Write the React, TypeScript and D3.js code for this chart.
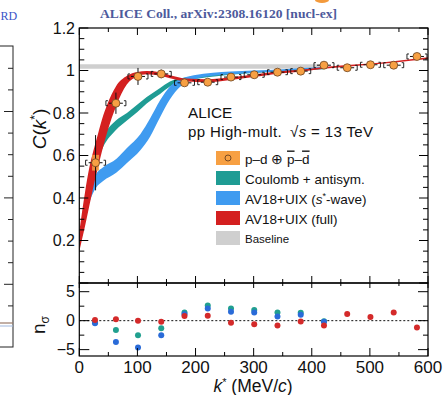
import React from "react";
import * as d3 from "d3";

// ---------- data ----------
const kPts = [28, 63, 101, 141, 181, 221, 261, 301, 341, 381, 421, 461, 501, 541, 581];
const cPts = [0.566, 0.846, 0.972, 0.984, 0.942, 0.945, 0.969, 0.98, 0.992, 0.997, 1.025, 1.013, 1.027, 1.025, 1.066];
const statErr = [0.13, 0.05, 0.04, 0.02, 0.01, 0.008, 0.006, 0.005, 0.005, 0.005, 0.005, 0.005, 0.005, 0.005, 0.006];
const sysErr = [0.037, 0.012, 0.01, 0.008, 0.006, 0.006, 0.005, 0.005, 0.005, 0.005, 0.005, 0.005, 0.005, 0.005, 0.005];
const kErr = [12, 12, 12, 12, 12, 12, 12, 12, 12, 12, 12, 12, 12, 12, 12];

const redK = [0, 5, 10, 17, 24, 30, 39, 48, 63, 82, 100, 116, 140, 156, 185, 220, 260, 300, 340, 380, 420, 460, 500, 540, 600];
const redLo = [0.15, 0.21, 0.27, 0.36, 0.45, 0.52, 0.62, 0.71, 0.83, 0.935, 0.972, 0.982, 0.975, 0.963, 0.948, 0.945, 0.955, 0.969, 0.985, 0.994, 1.008, 1.018, 1.027, 1.037, 1.054];
const redHi = [0.24, 0.34, 0.43, 0.54, 0.62, 0.68, 0.77, 0.84, 0.925, 0.975, 0.993, 0.998, 0.991, 0.978, 0.962, 0.959, 0.968, 0.981, 0.995, 1.003, 1.016, 1.026, 1.033, 1.043, 1.062];

const tealK = [22, 30, 41, 63, 82, 100, 116, 139, 156, 185, 220, 260, 300, 340, 380, 420];
const tealLo = [0.5, 0.57, 0.64, 0.72, 0.765, 0.805, 0.845, 0.89, 0.925, 0.952, 0.968, 0.98, 0.988, 0.994, 0.999, 1.006];
const tealHi = [0.56, 0.62, 0.69, 0.765, 0.8, 0.84, 0.875, 0.918, 0.948, 0.968, 0.98, 0.99, 0.996, 1.001, 1.006, 1.014];

const blueK = [0, 5, 10, 20, 28, 41, 64, 82, 105, 122, 139, 156, 174, 197, 230, 260, 300, 350, 420];
const blueLo = [0.17, 0.25, 0.31, 0.4, 0.445, 0.48, 0.52, 0.565, 0.625, 0.69, 0.78, 0.865, 0.925, 0.958, 0.975, 0.982, 0.99, 0.997, 1.008];
const blueHi = [0.22, 0.31, 0.38, 0.46, 0.51, 0.545, 0.585, 0.635, 0.7, 0.775, 0.86, 0.925, 0.96, 0.978, 0.99, 0.995, 1.0, 1.006, 1.016];

const baseK = [0, 420];
const baseLo = [1.008, 1.008];
const baseHi = [1.03, 1.03];

const nsK = [27, 63, 101, 141, 181, 221, 261, 301, 341, 381, 421, 461, 501, 541, 581];
const nsFull = [0.1, 0.25, 0, -0.2, 0.8, 0.85, -0.35, -0.6, -0.85, -0.15, -0.85, 1.15, 0.65, 1.4, -1.2];
const nsCoul = [-0.3, -1.6, -2.5, -1.3, 1.4, 2.6, 2.1, 1.85, 1.4, 1.35, -0.1];
const nsSwave = [-0.45, -3.7, -4.65, -2.5, 1.1, 2.1, 1.55, 1.4, 0.7, 1.0, -0.2];

const xTicks = [0, 100, 200, 300, 400, 500, 600];
const yUTicks = [0.2, 0.4, 0.6, 0.8, 1, 1.2];
const yUTickLabels = ["0.2", "0.4", "0.6", "0.8", "1", "1.2"];
const yLTicks = [-5, 0, 5];
const yLTickLabels = ["\u22125", "0", "5"];

// ---------- layout ----------
const W = 444, H = 395;
const L = 79.3, R = 428, T = 28, MID = 283, B = 356;
const SANS = "'Liberation Sans', Arial, Helvetica, sans-serif";

const C_RED = "#d42020";
const C_TEAL = "#1f9c94";
const C_BLUE = "#3f9bf0";
const C_GRAY = "#cfcfcf";
const C_ORANGE = "#f7a043";

export default function App() {
  const x = d3.scaleLinear().domain([0, 600]).range([L, R]);
  const yU = d3.scaleLinear().domain([0, 1.2]).range([MID, T]);
  const yL = d3.scaleLinear().domain([-6.1, 6.5]).range([B, MID]);

  const band = (k: number[], lo: number[], hi: number[]) =>
    d3
      .area<number>()
      .x((i) => x(k[i]))
      .y0((i) => yU(lo[i]))
      .y1((i) => yU(hi[i]))
      .curve(d3.curveMonotoneX)(d3.range(k.length)) as string;

  const minorX = d3.range(0, 601, 50);
  const minorYU = d3.range(0, 1.2001, 0.05);
  const minorYL = [-5, -2.5, 0, 2.5, 5];

  const tick = (x1: number, y1: number, x2: number, y2: number, key: string) => (
    <line key={key} x1={x1} y1={y1} x2={x2} y2={y2} stroke="#000" strokeWidth={1} />
  );

  const ticks: JSX.Element[] = [];
  minorX.forEach((v) => {
    const major = v % 100 === 0;
    const len = major ? 7 : 4;
    ticks.push(tick(x(v), T, x(v), T + len, `tt${v}`));
    ticks.push(tick(x(v), MID, x(v), MID - len, `tb${v}`));
    ticks.push(tick(x(v), MID, x(v), MID + (major ? 5 : 3), `lt${v}`));
    ticks.push(tick(x(v), B, x(v), B - (major ? 8 : 4), `lb${v}`));
  });
  minorYU.forEach((v, i) => {
    const major = i % 4 === 0;
    const len = major ? 9 : 5;
    ticks.push(tick(L, yU(v), L + len, yU(v), `ul${i}`));
    ticks.push(tick(R, yU(v), R - len, yU(v), `ur${i}`));
  });
  minorYL.forEach((v, i) => {
    const major = v % 5 === 0;
    const len = major ? 10 : 5;
    ticks.push(tick(L, yL(v), L + len, yL(v), `ll${i}`));
    ticks.push(tick(R, yL(v), R - len, yL(v), `lr${i}`));
  });

  const fragTicks = d3.range(0, 12).map((i) => 68.3 + i * 21.6);
  const legendRows = [151, 171, 191, 211, 231];

  return (
    <div style={{ position: "absolute", left: 0, top: 0, width: W, height: H, background: "#fff" }}>
      <svg width={W} height={H} style={{ display: "block" }} fontFamily={SANS}>
        <rect x={0} y={0} width={W} height={H} fill="#fff" />
        <defs>
          <clipPath id="clipU">
            <rect x={L} y={T} width={R - L} height={MID - T} />
          </clipPath>
          <clipPath id="clipL">
            <rect x={L} y={MID} width={R - L} height={B - MID} />
          </clipPath>
        </defs>

        {/* left fragment of neighbouring slide */}
        <text x={0.5} y={20} fontFamily="'Liberation Serif', 'Times New Roman', serif" fontSize={12} fill="#3b55c8">
          RD
        </text>
        <rect x={-2} y={46} width={15} height={301} fill="none" stroke="#222" strokeWidth={1} />
        {fragTicks.map((v, i) => (
          <line key={`ft${i}`} x1={13} x2={i % 4 === 2 ? 4 : 8} y1={v} y2={v} stroke="#222" strokeWidth={1} />
        ))}
        <line x1={0} x2={13} y1={323} y2={323} stroke="#9a7a6a" strokeWidth={1.2} />
        <line x1={0} x2={13} y1={326} y2={326} stroke="#9fb8e0" strokeWidth={1} />

        <ellipse cx={322} cy={0} rx={7} ry={3} fill="#f39a3c" />

        <text x={100} y={17.5} fontFamily="'Liberation Serif', 'Times New Roman', serif" fontWeight="bold" fontSize={12.5} fill="#4d5a9c" textLength={237} lengthAdjust="spacingAndGlyphs">
          ALICE Coll., arXiv:2308.16120 [nucl-ex]
        </text>

        <g clipPath="url(#clipU)">
          <path d={band(baseK, baseLo, baseHi)} fill={C_GRAY} />
          <path d={band(tealK, tealLo, tealHi)} fill={C_TEAL} />
          <path d={band(blueK, blueLo, blueHi)} fill={C_BLUE} />
          <path d={band(redK, redLo, redHi)} fill={C_RED} />
        </g>

        <g clipPath="url(#clipU)">
          {kPts.map((k, i) => {
            const cx = x(k);
            const cy = yU(cPts[i]);
            const bh = 2.5;
            const bl = cx - 10;
            const br = cx + 10;
            return (
              <g key={`p${i}`}>
                <rect x={cx - 3.5} y={yU(cPts[i] + sysErr[i])} width={7} height={yU(cPts[i] - sysErr[i]) - yU(cPts[i] + sysErr[i])} fill={C_ORANGE} opacity={0.85} />
                <line x1={cx} x2={cx} y1={yU(cPts[i] + statErr[i])} y2={yU(cPts[i] - statErr[i])} stroke="#111" strokeWidth={1} />
                <line x1={x(k - kErr[i])} x2={x(k + kErr[i])} y1={cy} y2={cy} stroke="#111" strokeWidth={1} />
                <path d={`M${bl + 2},${cy - bh}H${bl}V${cy + bh}H${bl + 2}`} fill="none" stroke="#111" strokeWidth={0.9} />
                <path d={`M${br - 2},${cy - bh}H${br}V${cy + bh}H${br - 2}`} fill="none" stroke="#111" strokeWidth={0.9} />
                <circle cx={cx} cy={cy} r={4} fill={C_ORANGE} stroke="#6b4220" strokeWidth={0.8} />
              </g>
            );
          })}
        </g>

        <text x={188} y={118} fontSize={15.3} fill="#111">ALICE</text>
        <text x={188} y={137} fontSize={15} fill="#111" textLength={185} lengthAdjust="spacing">
          <tspan>pp High-mult.</tspan>
          <tspan dx={8}>{"\u221A"}</tspan>
          <tspan fontStyle="italic">s</tspan>
          <tspan> = 13 TeV</tspan>
        </text>
        <rect x={216} y={legendRows[0]} width={24} height={14} fill={C_ORANGE} />
        <circle cx={228} cy={legendRows[0] + 7} r={3} fill={C_ORANGE} stroke="#6b4220" strokeWidth={0.9} />
        <rect x={216} y={legendRows[1]} width={24} height={14} fill={C_TEAL} />
        <rect x={216} y={legendRows[2]} width={24} height={14} fill={C_BLUE} />
        <rect x={216} y={legendRows[3]} width={24} height={14} fill={C_RED} />
        <rect x={216} y={legendRows[4]} width={24} height={14} fill={C_GRAY} />
        <text x={245} y={legendRows[0] + 12.5} fontSize={13.5} fill="#111">
          <tspan>p–d ⊕ </tspan>
          <tspan textDecoration="overline" style={{ textDecoration: "overline" }}>p</tspan>
          <tspan>–</tspan>
          <tspan textDecoration="overline" style={{ textDecoration: "overline" }}>d</tspan>
        </text>
        <text x={245} y={legendRows[1] + 12.5} fontSize={13.5} fill="#111">Coulomb + antisym.</text>
        <text x={245} y={legendRows[2] + 12.5} fontSize={13.5} fill="#111">
          <tspan>AV18+UIX (</tspan>
          <tspan fontStyle="italic">s</tspan>
          <tspan dy={-5} fontSize={9}>*</tspan>
          <tspan dy={5}>-wave)</tspan>
        </text>
        <text x={245} y={legendRows[3] + 12.5} fontSize={13.5} fill="#111">AV18+UIX (full)</text>
        <text x={245} y={legendRows[4] + 11.5} fontSize={11.5} fill="#111">Baseline</text>

        <line x1={L} x2={R} y1={yL(0)} y2={yL(0)} stroke="#111" strokeWidth={1} strokeDasharray="2,2" />
        <g clipPath="url(#clipL)">
          {nsCoul.map((v, i) => (
            <circle key={`nc${i}`} cx={x(nsK[i])} cy={yL(v)} r={3} fill="#21a08f" />
          ))}
          {nsSwave.map((v, i) => (
            <circle key={`nb${i}`} cx={x(nsK[i])} cy={yL(v)} r={3} fill="#2a6bd8" />
          ))}
          {nsFull.map((v, i) => (
            <circle key={`nr${i}`} cx={x(nsK[i])} cy={yL(v)} r={3} fill="#d42a2a" />
          ))}
        </g>

        <rect x={L} y={T} width={R - L} height={MID - T} fill="none" stroke="#000" strokeWidth={1.2} />
        <rect x={L} y={MID} width={R - L} height={B - MID} fill="none" stroke="#000" strokeWidth={1.2} />
        {ticks}

        {yUTicks.map((v, i) => (
          <text key={`yu${i}`} x={75} y={yU(v)} dy="0.36em" fontSize={16} textAnchor="end" fill="#111">
            {yUTickLabels[i]}
          </text>
        ))}
        {yLTicks.map((v, i) => (
          <text key={`yl${i}`} x={75} y={yL(v)} dy="0.36em" fontSize={16} textAnchor="end" fill="#111">
            {yLTickLabels[i]}
          </text>
        ))}
        {xTicks.map((v) => (
          <text key={`xt${v}`} x={x(v)} y={373} fontSize={17} textAnchor="middle" fill="#111">
            {v}
          </text>
        ))}

        <text x={253} y={392} fontSize={17.5} textAnchor="middle" fill="#111">
          <tspan fontStyle="italic">k</tspan>
          <tspan dy={-6} fontSize={11}>*</tspan>
          <tspan dy={6}> (MeV/</tspan>
          <tspan fontStyle="italic">c</tspan>
          <tspan>)</tspan>
        </text>
        <text transform="translate(46,129) rotate(-90)" fontSize={19} textAnchor="middle" fill="#111">
          <tspan fontStyle="italic">C</tspan>
          <tspan>(</tspan>
          <tspan fontStyle="italic">k</tspan>
          <tspan dy={-7} fontSize={12}>*</tspan>
          <tspan dy={7}>)</tspan>
        </text>
        <text transform="translate(45,325) rotate(-90)" fontSize={19} textAnchor="middle" fill="#111">
          <tspan>n</tspan>
          <tspan dy={4} fontSize={12}>σ</tspan>
        </text>
      </svg>
    </div>
  );
}
